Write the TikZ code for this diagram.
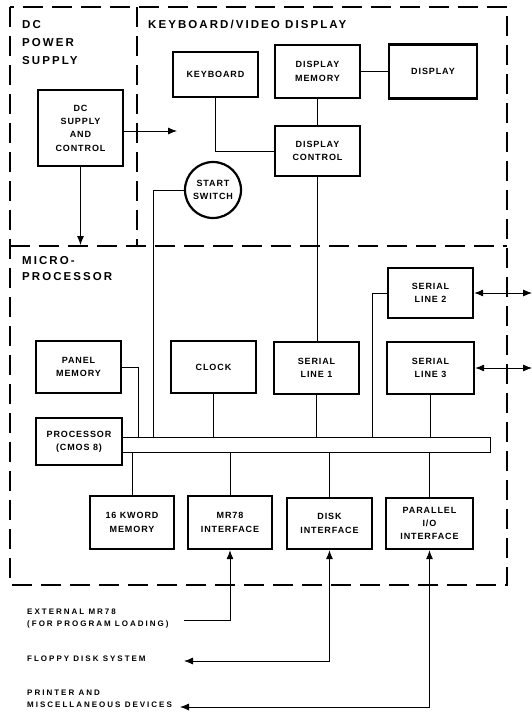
\documentclass[tikz,border=0pt]{standalone}
\usepackage{fontspec}
\setmainfont{Liberation Sans}
\newfontfamily\boxfont{Liberation Sans}[LetterSpace=10]
\newfontfamily\headfont{Liberation Sans}[LetterSpace=18]
\newfontfamily\extfont{Liberation Sans}[LetterSpace=25]
\usetikzlibrary{arrows.meta,calc}
\tikzset{
  blk/.style={draw, line width=2.4pt, align=center, inner sep=0pt,
    font=\boxfont\bfseries\fontsize{9}{13.3}\selectfont},
  sw/.style={draw, circle, line width=2.2pt, align=center, inner sep=0pt,
    font=\boxfont\bfseries\fontsize{9}{13.3}\selectfont},
  head/.style={align=left, inner sep=0pt, anchor=north west,
    font=\headfont\bfseries\fontsize{11.5}{18}\selectfont},
  ext/.style={align=left, inner sep=0pt, anchor=north west,
    font=\extfont\bfseries\fontsize{8}{11.5}\selectfont},
  bnd/.style={line width=2.4pt, dash pattern=on 20pt off 9pt},
  conn/.style={line width=0.8pt},
  tip/.tip={Latex[length=9pt,width=7pt]},
  bus/.style={draw, line width=0.9pt, inner sep=0pt, minimum width=368pt, minimum height=15pt}
}
\begin{document}
\begin{tikzpicture}[x=1pt,y=-1pt]
\fill[white] (0,0) rectangle (532,716);
\useasboundingbox (0,0) rectangle (532,716);

% dashed boundaries
\draw[bnd] (10,7) rectangle (507,585);
\draw[bnd] (137,7) -- (137,246);
\draw[bnd] (10,246) -- (507,246);

% headings
\node[head] (hdc) at (22,20) {DC\\POWER\\SUPPLY};
\node[head] (hkb) at (148,20) {KEYBOARD/VIDEO DISPLAY};
\node[head, font=\headfont\bfseries\fontsize{11.5}{16}\selectfont] (hmp) at (22,256) {MICRO-\\PROCESSOR};

% bus
\node[bus] (bus) at (306,444.5) {};

% blocks
\node[blk, minimum width=85pt, minimum height=45pt] (kb) at (215.5,74.5) {KEYBOARD};
\node[blk, minimum width=85pt, minimum height=53pt] (dmem) at (317.5,71.5) {DISPLAY\\MEMORY};
\node[blk, minimum width=88pt, minimum height=54pt] (disp) at (433,71.5) {DISPLAY};
\node[blk, minimum width=85pt, minimum height=50pt] (dctl) at (317.5,151) {DISPLAY\\CONTROL};
\node[blk, minimum width=85pt, minimum height=76pt] (dcs) at (80.5,128) {DC\\SUPPLY\\AND\\CONTROL};
\node[sw, minimum size=56pt] (ss) at (213,190) {START\\SWITCH};
\node[blk, minimum width=85pt, minimum height=52pt] (pmem) at (78.5,367) {PANEL\\MEMORY};
\node[blk, minimum width=85pt, minimum height=52pt] (clock) at (213.5,367) {CLOCK};
\node[blk, minimum width=85pt, minimum height=52pt] (sl1) at (316.5,368) {SERIAL\\LINE 1};
\node[blk, minimum width=85pt, minimum height=50pt] (sl2) at (430.5,293) {SERIAL\\LINE 2};
\node[blk, minimum width=87pt, minimum height=52pt] (sl3) at (430.5,368) {SERIAL\\LINE 3};
\node[blk, minimum width=86pt, minimum height=47pt] (proc) at (79,441.5) {PROCESSOR\\(CMOS 8)};
\node[blk, minimum width=84pt, minimum height=53pt] (kmem) at (132,522.5) {16 KWORD\\MEMORY};
\node[blk, minimum width=84pt, minimum height=53pt] (mr78) at (230,522.5) {MR78\\INTERFACE};
\node[blk, minimum width=85pt, minimum height=51pt] (disk) at (329.5,523.5) {DISK\\INTERFACE};
\node[blk, minimum width=87pt, minimum height=51pt] (pio) at (429.5,523.5) {PARALLEL\\I/O\\INTERFACE};

% external labels
\node[ext] (lext) at (27,609) {EXTERNAL MR78\\(FOR PROGRAM LOADING)};
\node[ext] (lflop) at (27,656) {FLOPPY DISK SYSTEM};
\node[ext] (lprn) at (27,690) {PRINTER AND\\MISCELLANEOUS DEVICES};

% free-end coordinates
\coordinate (kbin) at (177,131);
\coordinate (pwrin) at (80.5,245);
\coordinate (ssbus) at (153,437);
\coordinate (pmbus) at (138,437);
\coordinate (s2bus) at (372,437);
\coordinate (s2out) at (532,293);
\coordinate (s3out) at (532,368);
\coordinate (extc) at (184,620);
\coordinate (flopc) at (184,661);
\coordinate (prnc) at (180,707);

% connectors
\draw[conn] (dmem.east) -- (disp.west);
\draw[conn] (dmem.south) -- (dctl.north);
\draw[conn] (kb.south) |- (dctl.west);
\draw[conn] (dctl.south) -- (dctl.south |- sl1.north);
\draw[conn,-tip] (dcs.east |- kbin) -- (kbin);
\draw[conn,-tip] (dcs.south) -- (pwrin);
\draw[conn] (ss.west) -| (ssbus);
\draw[conn] (pmem.east) -| (pmbus);
\draw[conn] (clock.south) -- (clock.south |- bus.north);
\draw[conn] (sl1.south) -- (sl1.south |- bus.north);
\draw[conn] (sl3.south) -- (sl3.south |- bus.north);
\draw[conn] (sl2.west) -| (s2bus);
\draw[conn] (kmem.north) -- (kmem.north |- bus.south);
\draw[conn] (mr78.north) -- (mr78.north |- bus.south);
\draw[conn] (disk.north) -- (disk.north |- bus.south);
\draw[conn] (pio.north) -- (pio.north |- bus.south);
\draw[conn,tip-tip] (sl2.east) -- (s2out);
\draw[conn,tip-tip] (sl3.east) -- (s3out);
\draw[conn,tip-] (mr78.south) |- (extc);
\draw[conn,tip-tip] (disk.south) |- (flopc);
\draw[conn,tip-tip] (pio.south) |- (prnc);
\end{tikzpicture}
\end{document}
